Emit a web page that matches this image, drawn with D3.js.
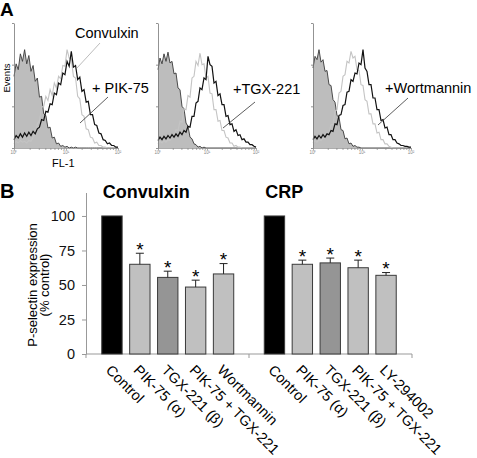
<!DOCTYPE html>
<html><head><meta charset="utf-8">
<script src="https://cdn.jsdelivr.net/npm/d3@7"></script>
<style>body{margin:0;background:#fff}svg{display:block;font-family:"Liberation Sans",Arial,sans-serif}</style>
</head><body><svg id="c" width="477" height="458"></svg>
<script>
// ---------- Panel A: flow cytometry histograms (50 log-spaced bins over 10^0..10^2) ----------
const h1Control   = [86,101,94,113,104,118,101,111,92,99,80,84,61,62,41,39,24,25,12,13,5,6,2,3,1,2,0,1,0,1,0,0,0,0,0,0,0,0,0,0,0,0,0,0,0,0,0,0,0,0];
const h1Convulxin = [5,8,6,9,7,8,6,9,8,13,17,29,33,49,50,62,57,70,63,78,72,86,83,99,98,118,108,107,86,84,62,59,40,38,23,22,13,12,6,7,3,3,1,1,0,0,0,0,0,0];
const h1Inhibitor = [10,15,12,17,13,18,14,19,15,20,17,23,25,34,33,44,43,53,52,66,64,78,76,90,88,104,98,116,97,99,82,85,68,70,55,56,40,40,28,27,18,17,10,9,5,6,3,3,1,1];
const h2Control   = [94,108,101,113,104,115,102,104,89,90,72,70,50,47,30,26,13,11,5,4,1,2,0,1,0,0,0,0,0,0,0,0,0,0,0,0,0,0,0,0,0,0,0,0,0,0,0,0,0,0];
const h2Convulxin = [5,8,6,9,7,10,9,14,13,22,21,32,31,47,46,63,61,84,86,104,99,114,100,101,84,86,66,65,46,46,32,33,21,21,13,12,6,6,2,3,1,1,0,0,0,0,0,0,0,0];
const h2Inhibitor = [9,13,10,14,11,15,12,16,13,17,14,19,16,21,19,26,25,38,38,54,56,72,70,84,82,110,100,98,78,80,63,65,52,52,38,39,28,29,20,22,15,16,10,11,7,7,4,4,2,1];
const h3Control   = [96,110,106,118,103,106,92,93,76,75,58,55,39,37,22,21,11,12,5,6,2,3,1,1,0,0,0,0,0,0,0,0,0,0,0,0,0,0,0,0,0,0,0,0,0,0,0,0,0,0];
const h3Convulxin = [6,9,7,10,9,12,11,18,17,28,28,44,46,66,68,86,88,104,102,116,108,110,94,93,76,75,58,56,41,41,29,29,18,19,10,10,5,5,2,1,0,0,0,0,0,0,0,0,0,0];
const h3Inhibitor = [10,14,11,15,12,16,13,17,16,21,20,29,28,39,40,51,52,67,68,82,80,90,89,102,100,118,96,92,76,76,60,60,46,46,33,34,24,25,16,16,10,10,6,5,3,3,2,2,1,1];
const histLabels  = ["+ PIK-75", "+TGX-221", "+Wortmannin"];
const histXTicks  = [1, 10, 100];
const histXTickLabels = ["10\u2070", "10\u00b9", "10\u00b2"];
const histYTicks  = [0, 50, 100, 150];

// ---------- Panel B: P-selectin expression (% control) ----------
const convulxinCats = ["Control", "PIK-75 (\u03b1)", "TGX-221 (\u03b2)", "PIK-75 + TGX-221", "Wortmannin"];
const convulxinVals = [100, 65, 55.5, 48.5, 58];
const convulxinErr  = [0, 8, 4.5, 5, 7.5];
const crpCats = ["Control", "PIK-75 (\u03b1)", "TGX-221 (\u03b2)", "PIK-75 + TGX-221", "LY-294002"];
const crpVals = [100, 65, 66, 62.5, 57];
const crpErr  = [0, 3, 3.5, 5.5, 2];
const significant = [false, true, true, true, true];
const barYTicks = [0, 25, 50, 75, 100];

const barFill = ["#000000", "#c0c0c0", "#959595", "#c0c0c0", "#c0c0c0"];

const svg = d3.select("#c");
const FONT = '"Liberation Sans", Arial, sans-serif';

// ===== Panel A =====
svg.append("text").attr("x", 0).attr("y", 16).attr("font-size", 19).attr("font-weight", "bold").text("A");

const histPanels = [
  {x0: 14, w: 104, data: [h1Control, h1Convulxin, h1Inhibitor]},
  {x0: 158, w: 98, data: [h2Control, h2Convulxin, h2Inhibitor]},
  {x0: 313, w: 98, data: [h3Control, h3Convulxin, h3Inhibitor]}
];
const hy = d3.scaleLinear().domain([0, 150]).range([148, 23]);

histPanels.forEach((p, pi) => {
  const g = svg.append("g");
  const nb = p.data[0].length;
  const hx = d3.scaleLog().domain([1, 100]).range([p.x0, p.x0 + p.w]);
  const bx = (d, i) => hx(Math.pow(10, i * 2 / (nb - 1)));
  const area = d3.area().x(bx).y0(hy(0)).y1(d => hy(d));
  const line = d3.line().x(bx).y(d => hy(d));

  g.append("path").attr("d", area(p.data[0])).attr("fill", "#bdbdbd");
  g.append("path").attr("d", line(p.data[0])).attr("fill", "none").attr("stroke", "#3a3a3a").attr("stroke-width", 0.9);
  g.append("path").attr("d", line(p.data[1])).attr("fill", "none").attr("stroke", "#c4c4c4").attr("stroke-width", 1.1);
  g.append("path").attr("d", line(p.data[2])).attr("fill", "none").attr("stroke", "#111").attr("stroke-width", 1.2);

  // axes
  const minor = [];
  for (let dec = 1; dec < 100; dec *= 10) for (let k = 1; k < 10; k++) minor.push(dec * k);
  minor.push(100);
  const xa = g.append("g").attr("transform", `translate(0,${hy(0)})`)
    .call(d3.axisBottom(hx).tickValues(minor).tickSize(2).tickSizeOuter(0).tickFormat(""));
  xa.selectAll("path,line").attr("stroke", "#888").attr("stroke-width", 0.7);
  const ya = g.append("g").attr("transform", `translate(${p.x0},0)`)
    .call(d3.axisLeft(hy).tickValues(histYTicks).tickSize(2).tickSizeOuter(0).tickFormat(""));
  ya.selectAll("path,line").attr("stroke", "#777").attr("stroke-width", 0.8);
  histXTicks.forEach((t, ti) => {
    g.append("text").attr("x", hx(t)).attr("y", hy(0) + 6).attr("text-anchor", "middle")
      .attr("font-size", 4.5).attr("fill", "#888").text(histXTickLabels[ti]);
  });
});

// annotations panel A
svg.append("text").attr("x", 9.5).attr("y", 78).attr("transform", "rotate(-90,9.5,78)")
  .attr("text-anchor", "middle").attr("font-size", 9.5).text("Events");
svg.append("text").attr("x", 52).attr("y", 167).attr("font-size", 11).text("FL-1");

svg.append("text").attr("x", 75).attr("y", 38).attr("font-size", 14.5).text("Convulxin");
svg.append("line").attr("x1", 100).attr("y1", 43).attr("x2", 77).attr("y2", 68).attr("stroke", "#aaa").attr("stroke-width", 0.8);

const annot = [
  {tx: 92, ty: 93, x1: 108, y1: 97, x2: 80, y2: 123},
  {tx: 233, ty: 94, x1: 255, y1: 102, x2: 223, y2: 128},
  {tx: 385, ty: 93, x1: 408, y1: 98, x2: 378, y2: 125}
];
annot.forEach((a, i) => {
  svg.append("text").attr("x", a.tx).attr("y", a.ty).attr("font-size", 14.5).text(histLabels[i]);
  svg.append("line").attr("x1", a.x1).attr("y1", a.y1).attr("x2", a.x2).attr("y2", a.y2).attr("stroke", "#333").attr("stroke-width", 0.8);
});

// ===== Panel B =====
svg.append("text").attr("x", 0).attr("y", 198).attr("font-size", 20).attr("font-weight", "bold").text("B");

const y = d3.scaleLinear().domain([0, 117]).range([354, 192.5]);
const axisX = 86, axisEnd = 412;
const bandC = d3.scaleBand().domain(convulxinCats).range([98, 237.5]).paddingInner(0.27).paddingOuter(0.135);
const bandR = d3.scaleBand().domain(crpCats).range([260.5, 400]).paddingInner(0.27).paddingOuter(0.135);

const ya = svg.append("g").attr("transform", `translate(${axisX},0)`)
  .call(d3.axisLeft(y).tickValues(barYTicks).tickSize(4).tickSizeOuter(0).tickPadding(7));
ya.select(".domain").attr("stroke", "#999");
ya.selectAll(".tick line").attr("stroke", "#999");
ya.selectAll(".tick text").attr("font-size", 14.5).attr("font-family", FONT).attr("fill", "#111");

// x axis line with group ticks
const base = y(0);
svg.append("line").attr("x1", axisX).attr("x2", axisEnd).attr("y1", base).attr("y2", base).attr("stroke", "#999");
[axisX, (bandC.range()[1] + bandR.range()[0]) / 2, axisEnd].forEach(tx => {
  svg.append("line").attr("x1", tx).attr("x2", tx).attr("y1", base).attr("y2", base + 4).attr("stroke", "#999");
});

svg.append("text").attr("x", 37).attr("y", 285).attr("transform", "rotate(-90,37,285)")
  .attr("text-anchor", "middle").attr("font-size", 13).text("P-selectin expression");
svg.append("text").attr("x", 49).attr("y", 285).attr("transform", "rotate(-90,49,285)")
  .attr("text-anchor", "middle").attr("font-size", 13).text("(% control)");

function drawGroup(band, cats, vals, errs, title) {
  const g = svg.append("g");
  g.append("text").attr("x", band(cats[0]) + 1).attr("y", 198).attr("font-size", 18).attr("font-weight", "bold").text(title);
  cats.forEach((c, i) => {
    const x0 = band(c), bw = band.bandwidth(), cx = x0 + bw / 2;
    g.append("rect").attr("x", x0).attr("y", y(vals[i])).attr("width", bw).attr("height", base - y(vals[i]))
      .attr("fill", barFill[i]).attr("stroke", "#3a3a3a").attr("stroke-width", 1);
    if (errs[i] > 0) {
      const top = y(vals[i] + errs[i]);
      g.append("line").attr("x1", cx).attr("x2", cx).attr("y1", y(vals[i])).attr("y2", top).attr("stroke", "#222").attr("stroke-width", 1);
      g.append("line").attr("x1", cx - 4).attr("x2", cx + 4).attr("y1", top).attr("y2", top).attr("stroke", "#222").attr("stroke-width", 1);
    }
    if (significant[i]) {
      g.append("text").attr("x", cx).attr("y", y(vals[i] + errs[i]) + 2.5).attr("text-anchor", "middle")
        .attr("font-size", 19).text("*");
    }
    const lx = cx - 7, ly = base + 17;
    g.append("text").attr("x", lx).attr("y", ly).attr("transform", `rotate(45,${lx},${ly})`)
      .attr("font-size", 14.5).text(c);
  });
}
drawGroup(bandC, convulxinCats, convulxinVals, convulxinErr, "Convulxin");
drawGroup(bandR, crpCats, crpVals, crpErr, "CRP");
</script></body></html>
